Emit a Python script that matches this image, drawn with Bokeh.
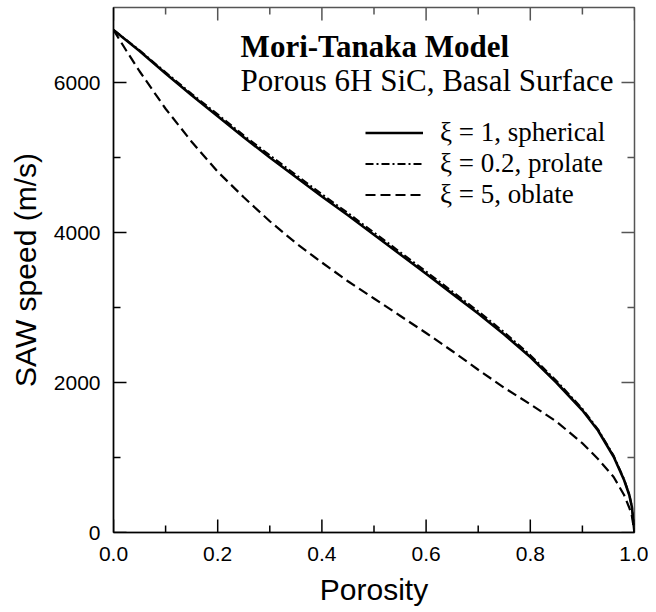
from bokeh.plotting import figure
from bokeh.models import (FixedTicker, PrintfTickFormatter, Range1d,
                          Legend, LegendItem, Label)
from bokeh.embed import file_html
from bokeh.resources import INLINE

# ---- data ----
porosity = [0, 0.025, 0.05, 0.1, 0.15, 0.2, 0.25, 0.3, 0.35, 0.4, 0.45, 0.5, 0.55,
            0.6, 0.65, 0.7, 0.75, 0.8, 0.85, 0.9, 0.93, 0.96, 0.98, 0.99, 0.995, 1.0]
speed_spherical = [6700, 6560, 6420, 6120, 5830, 5550, 5270, 5000, 4740, 4480, 4230,
                   3970, 3710, 3450, 3185, 2920, 2640, 2340, 2000, 1630, 1360, 1010,
                   700, 500, 340, 0]
speed_prolate = [6700, 6565, 6430, 6135, 5850, 5575, 5295, 5030, 4770, 4510, 4260,
                 4000, 3740, 3480, 3215, 2950, 2670, 2365, 2025, 1650, 1375, 1025,
                 710, 505, 345, 0]
speed_oblate = [6700, 6420, 6150, 5650, 5210, 4810, 4470, 4150, 3860, 3600, 3350,
                3120, 2890, 2660, 2420, 2170, 1930, 1710, 1480, 1190, 980, 740,
                500, 330, 220, 0]

x_major = [0.0, 0.2, 0.4, 0.6, 0.8, 1.0]
x_minor = [0.1, 0.3, 0.5, 0.7, 0.9]
y_major = [0, 2000, 4000, 6000]
y_minor = [1000, 3000, 5000]

legend_labels = ["\u03be = 1, spherical", "\u03be = 0.2, prolate", "\u03be = 5, oblate"]
title_main = "Mori-Tanaka Model"
title_sub = "Porous 6H SiC, Basal Surface"
x_title = "Porosity"
y_title = "SAW speed (m/s)"

SANS = "Liberation Sans"
SERIF = "Liberation Serif"

X0, X1 = 0.0, 1.0
Y0, Y1 = 0.0, 7000.0
BL, BR, BT, BB = 113, 14, 7, 80
W, H = 648, 612
FW = W - BL - BR          # frame width in px
FH = H - BT - BB          # frame height in px

p = figure(width=W, height=H, output_backend="svg", toolbar_location=None,
           x_range=Range1d(X0, X1), y_range=Range1d(Y0, Y1),
           min_border_left=BL, min_border_right=BR, min_border_top=BT,
           min_border_bottom=BB)
p.background_fill_color = "white"
p.border_fill_color = "white"
p.xgrid.visible = False
p.ygrid.visible = False
p.outline_line_color = "#555555"
p.outline_line_width = 1.5

for ax, ticks in ((p.xaxis[0], x_major), (p.yaxis[0], y_major)):
    ax.ticker = FixedTicker(ticks=ticks)
    ax.major_tick_in = 0
    ax.major_tick_out = 0
    ax.minor_tick_in = 0
    ax.minor_tick_out = 0
    ax.axis_line_color = "black"
    ax.axis_line_width = 1.5
    ax.major_label_text_font = SANS
    ax.major_label_text_font_size = "21px"
    ax.major_label_text_color = "black"
    ax.axis_label_text_font = SANS
    ax.axis_label_text_font_style = "normal"
    ax.axis_label_text_color = "black"

xa = p.xaxis[0]
xa.formatter = PrintfTickFormatter(format="%.1f")
xa.axis_label = x_title
xa.axis_label_text_font_size = "30px"
xa.major_label_standoff = 14
xa.axis_label_standoff = 9

ya = p.yaxis[0]
ya.axis_label = y_title
ya.axis_label_text_font_size = "30px"
ya.major_label_standoff = 13
ya.axis_label_standoff = 9

# inward ticks on all four sides, drawn from the tick lists
MAJ, MIN = 13, 7
dx = (X1 - X0) / FW
dy = (Y1 - Y0) / FH
for ticks, ln in ((x_major, MAJ), (x_minor, MIN)):
    p.segment(x0=ticks, y0=[Y0] * len(ticks), x1=ticks, y1=[Y0 + ln * dy] * len(ticks),
              line_color="black", line_width=1.5)
    p.segment(x0=ticks, y0=[Y1] * len(ticks), x1=ticks, y1=[Y1 - ln * dy] * len(ticks),
              line_color="#555555", line_width=1.5)
for ticks, ln in ((y_major, MAJ), (y_minor, MIN)):
    p.segment(x0=[X0] * len(ticks), y0=ticks, x1=[X0 + ln * dx] * len(ticks), y1=ticks,
              line_color="black", line_width=1.5)
    p.segment(x0=[X1] * len(ticks), y0=ticks, x1=[X1 - ln * dx] * len(ticks), y1=ticks,
              line_color="#555555", line_width=1.5)

r_sph = p.line(porosity, speed_spherical, line_color="black", line_width=2.6)
r_pro = p.line(porosity, speed_prolate, line_color="black", line_width=2,
               line_dash="8 3 2 3")
r_obl = p.line(porosity, speed_oblate, line_color="black", line_width=2.2,
               line_dash="10 5")

legend = Legend(items=[LegendItem(label=legend_labels[0], renderers=[r_sph]),
                       LegendItem(label=legend_labels[1], renderers=[r_pro]),
                       LegendItem(label=legend_labels[2], renderers=[r_obl])],
                location=(252, 322))
legend.label_text_font = SERIF
legend.label_text_font_size = "27px"
legend.label_text_color = "black"
legend.glyph_width = 58
legend.glyph_height = 31
legend.label_height = 31
legend.label_standoff = 17
legend.spacing = 0
legend.padding = 0
legend.margin = 0
legend.border_line_alpha = 0
legend.background_fill_alpha = 0
p.add_layout(legend)

p.add_layout(Label(x=0.244, y=6485, text=title_main, text_font=SERIF,
                   text_font_size="31px", text_font_style="bold",
                   text_color="black", text_baseline="alphabetic"))
p.add_layout(Label(x=0.244, y=6030, text=title_sub, text_font=SERIF,
                   text_font_size="31px", text_color="black",
                   text_baseline="alphabetic"))

open("out.html", "w").write(file_html(p, INLINE))
